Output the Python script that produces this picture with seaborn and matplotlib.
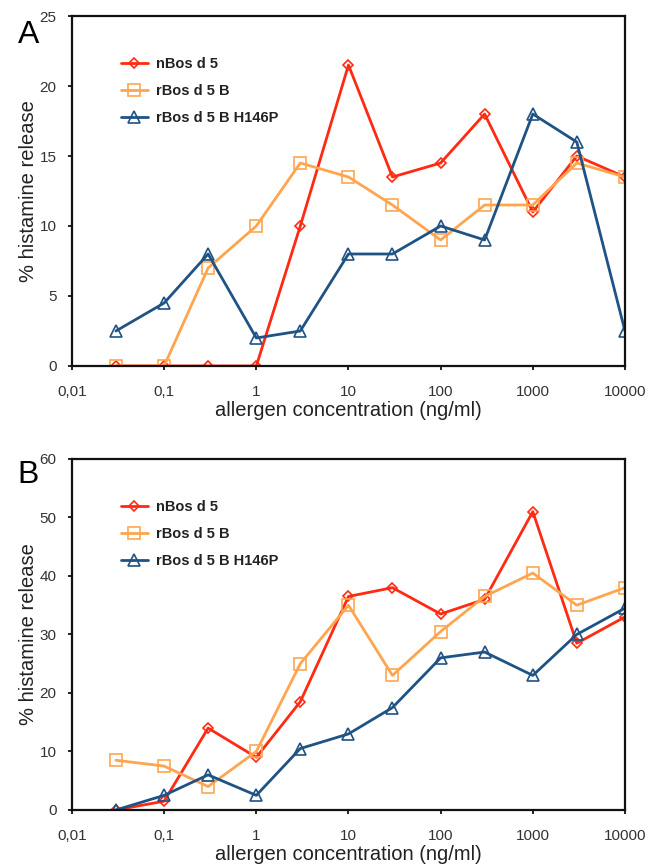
import matplotlib
matplotlib.use("Agg")
import matplotlib.pyplot as plt
import seaborn as sns
import numpy as np
from matplotlib.ticker import FixedLocator, FixedFormatter, NullLocator

conc = [0.03, 0.1, 0.3, 1, 3, 10, 30, 100, 300, 1000, 3000, 10000]
series_names = ["nBos d 5", "rBos d 5 B", "rBos d 5 B H146P"]

a_nbos = [0, 0, 0, 0, 10, 21.5, 13.5, 14.5, 18, 11, 15, 13.5]
a_rbos = [0, 0, 7, 10, 14.5, 13.5, 11.5, 9, 11.5, 11.5, 14.5, 13.5]
a_h146p = [2.5, 4.5, 8, 2, 2.5, 8, 8, 10, 9, 18, 16, 2.5]

b_nbos = [0, 1.5, 14, 9, 18.5, 36.5, 38, 33.5, 36, 51, 28.5, 33]
b_rbos = [8.5, 7.5, 4, 10, 25, 35, 23, 30.5, 36.5, 40.5, 35, 38]
b_h146p = [0, 2.5, 6, 2.5, 10.5, 13, 17.5, 26, 27, 23, 30, 34.5]

xtick_vals = [0.01, 0.1, 1, 10, 100, 1000, 10000]
xtick_labels = ["0,01", "0,1", "1", "10", "100", "1000", "10000"]

colors = ["#FF2A12", "#FFA54F", "#1F5285"]
markers = ["D", "s", "^"]
msizes = [5, 8, 8]

sns.set_theme(style="white")
plt.rcParams['font.family'] = ['Liberation Sans', 'DejaVu Sans']

fig = plt.figure(figsize=(6.58, 8.66), dpi=100)
axA = fig.add_axes([0.1094, 0.5774, 0.8404, 0.4041])
axB = fig.add_axes([0.1094, 0.0647, 0.8404, 0.4053])

def draw(ax, data, ylim, yticks, letter, ly):
    for name, vals, c, m, ms in zip(series_names, data, colors, markers, msizes):
        sns.lineplot(x=conc, y=vals, ax=ax, color=c, linewidth=2.0, marker=m,
                     markersize=ms, markerfacecolor="none", markeredgecolor=c,
                     markeredgewidth=1.2, label=name)
    ax.set_xscale("log")
    ax.set_xlim(0.01, 10000)
    ax.set_ylim(*ylim)
    ax.xaxis.set_major_locator(FixedLocator(xtick_vals))
    ax.xaxis.set_major_formatter(FixedFormatter(xtick_labels))
    ax.xaxis.set_minor_locator(NullLocator())
    ax.set_yticks(yticks)
    ax.set_yticklabels([str(v) for v in yticks])
    ax.tick_params(axis="both", which="major", direction="out", length=3, width=1.3,
                   labelsize=11, labelcolor="#333333", color="#111111",
                   bottom=True, left=True)
    ax.tick_params(axis="x", pad=11)
    ax.tick_params(axis="y", pad=8)
    for s in ax.spines.values():
        s.set_visible(True)
        s.set_color("#111111")
        s.set_linewidth(1.6)
    ax.set_ylabel("% histamine release", fontsize=14.5, color="#222222", labelpad=1)
    ax.set_xlabel("allergen concentration (ng/ml)", fontsize=14.5, color="#222222", labelpad=1)
    leg = ax.legend(loc="upper left", bbox_to_anchor=(0.064, 0.92), frameon=False,
                    prop={"weight": "bold", "size": 10.5}, handlelength=1.9,
                    labelspacing=0.9, handletextpad=0.5)
    for t in leg.get_texts():
        t.set_color("#222222")
    ax.grid(False)
    fig.text(0.027, ly, letter, fontsize=23, color="black", ha="left", va="baseline")

draw(axA, [a_nbos, a_rbos, a_h146p], (0, 25), [0, 5, 10, 15, 20, 25], "A", 0.950)
draw(axB, [b_nbos, b_rbos, b_h146p], (0, 60), [0, 10, 20, 30, 40, 50, 60], "B", 0.442)

fig.savefig("out.png", dpi=100, facecolor="white")
